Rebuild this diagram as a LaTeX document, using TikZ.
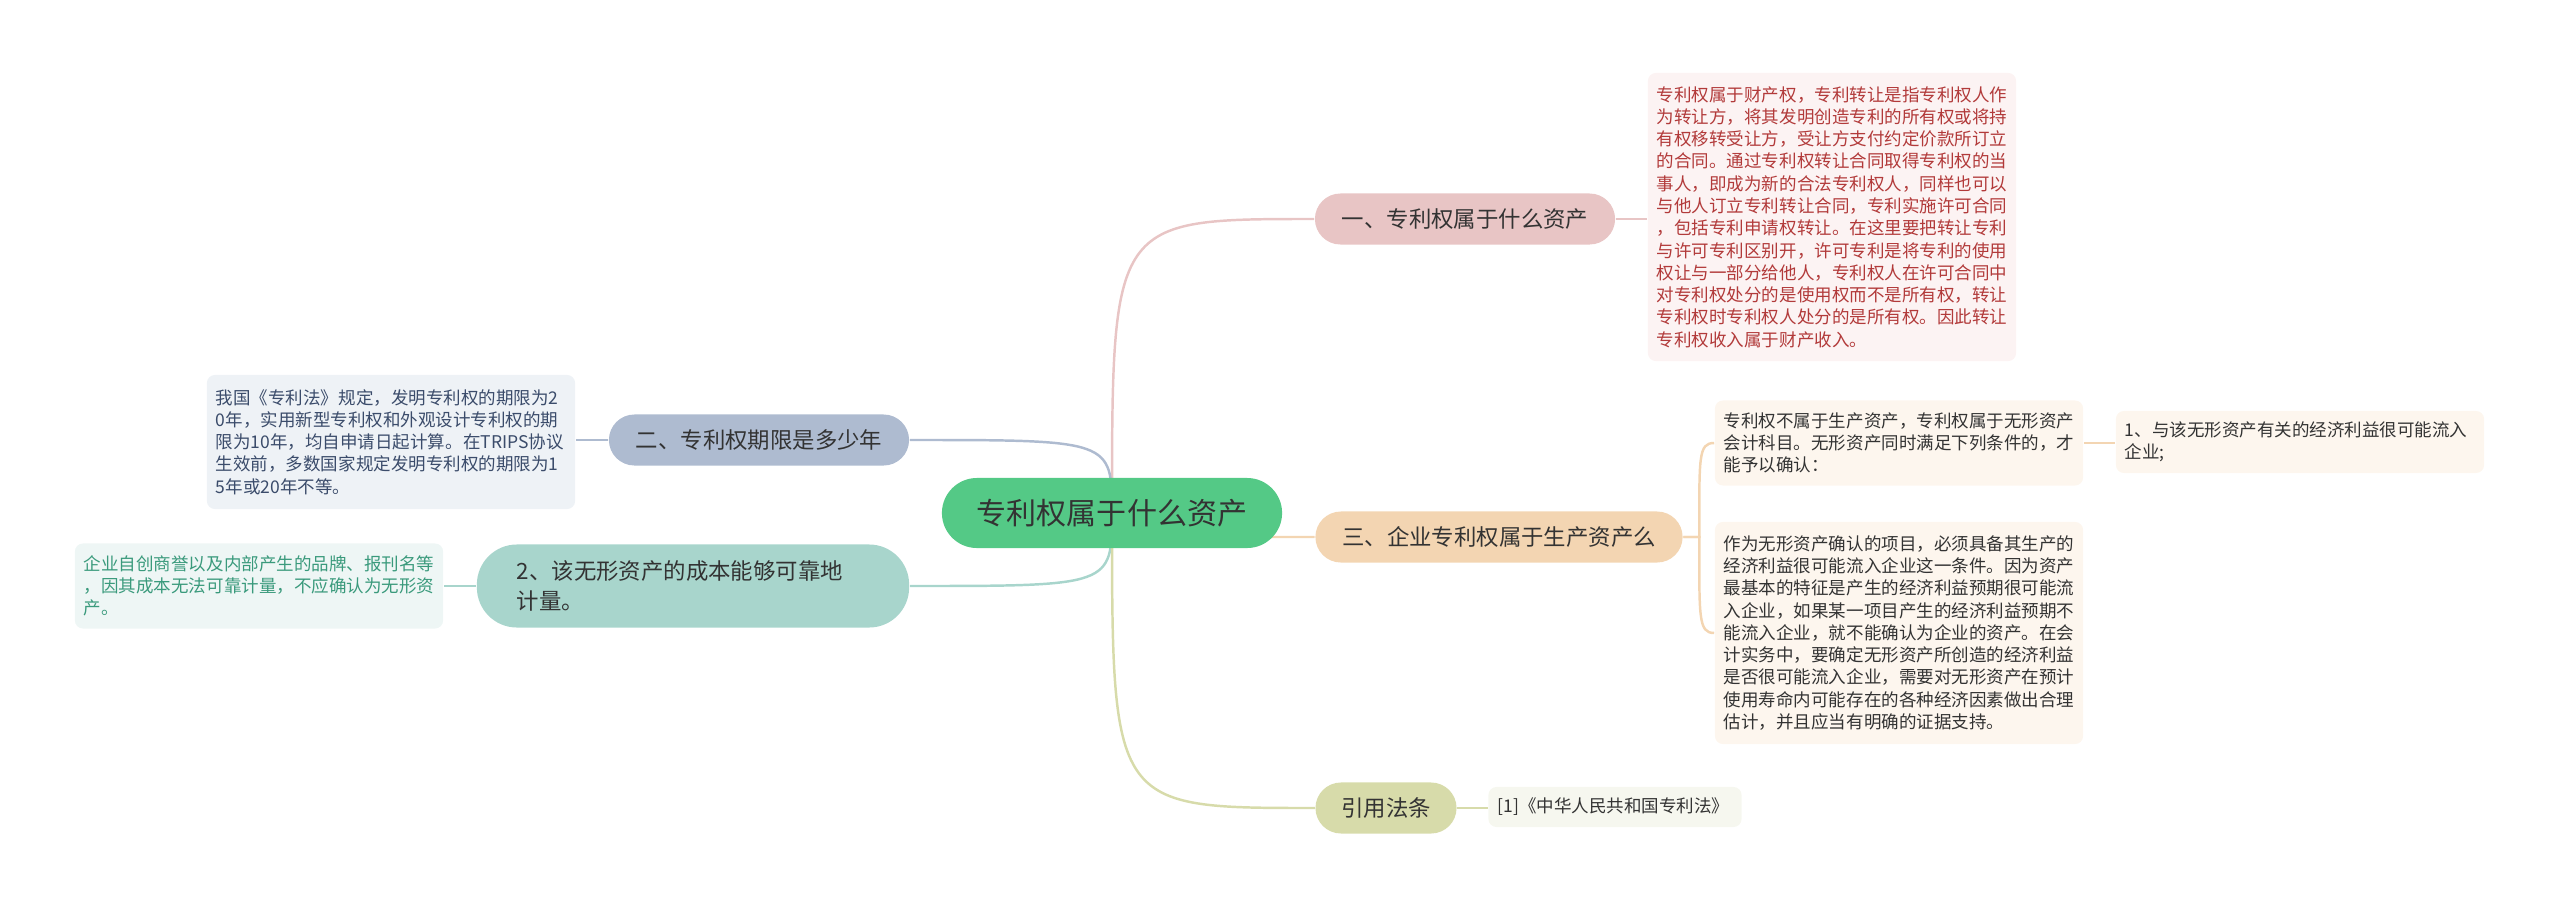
\documentclass[tikz,border=0pt]{standalone}
\usepackage{fontspec}
\usepackage{xcolor}
\newfontfamily\cjkfont{Noto Sans CJK SC}
\usetikzlibrary{backgrounds}

\definecolor{rootgreen}{HTML}{54C986}
\definecolor{pinkfill}{HTML}{E8C5C5}
\definecolor{bluefill}{HTML}{AEBBD0}
\definecolor{tealfill}{HTML}{A8D5CC}
\definecolor{peachfill}{HTML}{F3D5B2}
\definecolor{olivefill}{HTML}{D7DBAA}
\definecolor{pinkleaf}{HTML}{FCF3F3}
\definecolor{blueleaf}{HTML}{EEF2F6}
\definecolor{tealleaf}{HTML}{EEF6F5}
\definecolor{peachleaf}{HTML}{FDF6EE}
\definecolor{oliveleaf}{HTML}{F6F7EF}
\definecolor{pinktext}{HTML}{B23A3A}
\definecolor{bluetext}{HTML}{3B4C6B}
\definecolor{tealtext}{HTML}{3A9A7C}
\definecolor{textdark}{HTML}{333333}

\begin{document}
\begin{tikzpicture}[
      x=0.01cm, y=-0.01cm,
      topic/.style={
        fill=rootgreen,
        rounded corners=0.35cm,
        minimum width=3.4cm,
        minimum height=0.70cm,
        inner sep=0pt,
        text=textdark,
        font=\cjkfont\fontsize{8.54}{10}\selectfont
      },
      branch/.style={
        rounded corners=0.255cm,
        minimum height=0.51cm,
        inner sep=0pt,
        text=textdark,
        font=\cjkfont\fontsize{6.37}{8.5}\selectfont
      },
      leaf/.style={
        rounded corners=0.08cm,
        inner xsep=0.09cm,
        inner ysep=0pt,
        text width=3.5cm,
        align=left,
        font=\cjkfont\fontsize{4.98}{6.33}\selectfont
      },
      link/.style={line width=0.7pt}
    ]
      \path[use as bounding box] (0,0) rectangle (2560,909);

      % Central topic
      \node[topic] (root) at (1112,513) {专利权属于什么资产};

      % Branches
      \node[branch, fill=pinkfill, minimum width=3.0cm] (b1) at (1465,219) {一、专利权属于什么资产};
      \node[branch, fill=bluefill, minimum width=3.0cm] (b2) at (759,440) {二、专利权期限是多少年};
      \node[branch, fill=tealfill, minimum width=4.32cm, minimum height=0.83cm,
            rounded corners=0.4cm, text width=3.52cm, align=left] (b3) at (693,586)
            {2、该无形资产的成本能够可靠地\\计量。};
      \node[branch, fill=peachfill, minimum width=3.67cm] (b4) at (1499,537) {三、企业专利权属于生产资产么};
      \node[branch, fill=olivefill, minimum width=1.41cm] (b5) at (1386,808) {引用法条};

      % Leaves
      \node[leaf, fill=pinkleaf, text=pinktext, minimum height=2.88cm] (l1) at (1832,217) {%
        专利权属于财产权，专利转让是指专利权人作\\
        为转让方，将其发明创造专利的所有权或将持\\
        有权移转受让方，受让方支付约定价款所订立\\
        的合同。通过专利权转让合同取得专利权的当\\
        事人，即成为新的合法专利权人，同样也可以\\
        与他人订立专利转让合同，专利实施许可合同\\
        ，包括专利申请权转让。在这里要把转让专利\\
        与许可专利区别开，许可专利是将专利的使用\\
        权让与一部分给他人，专利权人在许可合同中\\
        对专利权处分的是使用权而不是所有权，转让\\
        专利权时专利权人处分的是所有权。因此转让\\
        专利权收入属于财产收入。};
      \node[leaf, fill=blueleaf, text=bluetext, minimum height=1.34cm] (l2) at (391,442) {%
        我国《专利法》规定，发明专利权的期限为2\\
        0年，实用新型专利权和外观设计专利权的期\\
        限为10年，均自申请日起计算。在TRIPS协议\\
        生效前，多数国家规定发明专利权的期限为1\\
        5年或20年不等。};
      \node[leaf, fill=tealleaf, text=tealtext, minimum height=0.85cm] (l3) at (259,586) {%
        企业自创商誉以及内部产生的品牌、报刊名等\\
        ，因其成本无法可靠计量，不应确认为无形资\\
        产。};
      \node[leaf, fill=peachleaf, text=textdark, minimum height=0.85cm] (l4a) at (1899,443) {%
        专利权不属于生产资产，专利权属于无形资产\\
        会计科目。无形资产同时满足下列条件的，才\\
        能予以确认：};
      \node[leaf, fill=peachleaf, text=textdark, minimum height=2.22cm] (l4b) at (1899,633) {%
        作为无形资产确认的项目，必须具备其生产的\\
        经济利益很可能流入企业这一条件。因为资产\\
        最基本的特征是产生的经济利益预期很可能流\\
        入企业，如果某一项目产生的经济利益预期不\\
        能流入企业，就不能确认为企业的资产。在会\\
        计实务中，要确定无形资产所创造的经济利益\\
        是否很可能流入企业，需要对无形资产在预计\\
        使用寿命内可能存在的各种经济因素做出合理\\
        估计，并且应当有明确的证据支持。};
      \node[leaf, fill=peachleaf, text=textdark, minimum height=0.62cm] (l4c) at (2300,442) {%
        1、与该无形资产有关的经济利益很可能流入\\
        企业;};
      \node[leaf, fill=oliveleaf, text=textdark, text width=2.35cm, minimum height=0.40cm] (l5) at (1615,807)
        {[1]《中华人民共和国专利法》};

      % Connections
      \begin{scope}[on background layer]
        \draw[link, pinkfill] (root.center) .. controls (root.center |- b1.west) .. (b1.west);
        \draw[link, bluefill] (root.center) .. controls (root.center |- b2.east) .. (b2.east);
        \draw[link, tealfill] (root.center) .. controls (root.center |- b3.east) .. (b3.east);
        \draw[link, peachfill] (root.center) .. controls (root.center |- b4.west) .. (b4.west);
        \draw[link, olivefill] (root.center) .. controls (root.center |- b5.west) .. (b5.west);

        \draw[link, pinkfill] (b1.east) -- (b1.east -| l1.west);
        \draw[link, bluefill] (b2.west) -- (b2.west -| l2.east);
        \draw[link, tealfill] (b3.west) -- (b3.west -| l3.east);
        \draw[link, peachfill] (b4.east) -- ++(16,0) .. controls +(0,-80) and +(-16,0) .. (l4a.west);
        \draw[link, peachfill] (b4.east) -- ++(16,0) .. controls +(0,80) and +(-16,0) .. (l4b.west);
        \draw[link, peachfill] (l4a.east) -- (l4a.east -| l4c.west);
        \draw[link, olivefill] (b5.east) -- (b5.east -| l5.west);
      \end{scope}
    \end{tikzpicture}
\end{document}
